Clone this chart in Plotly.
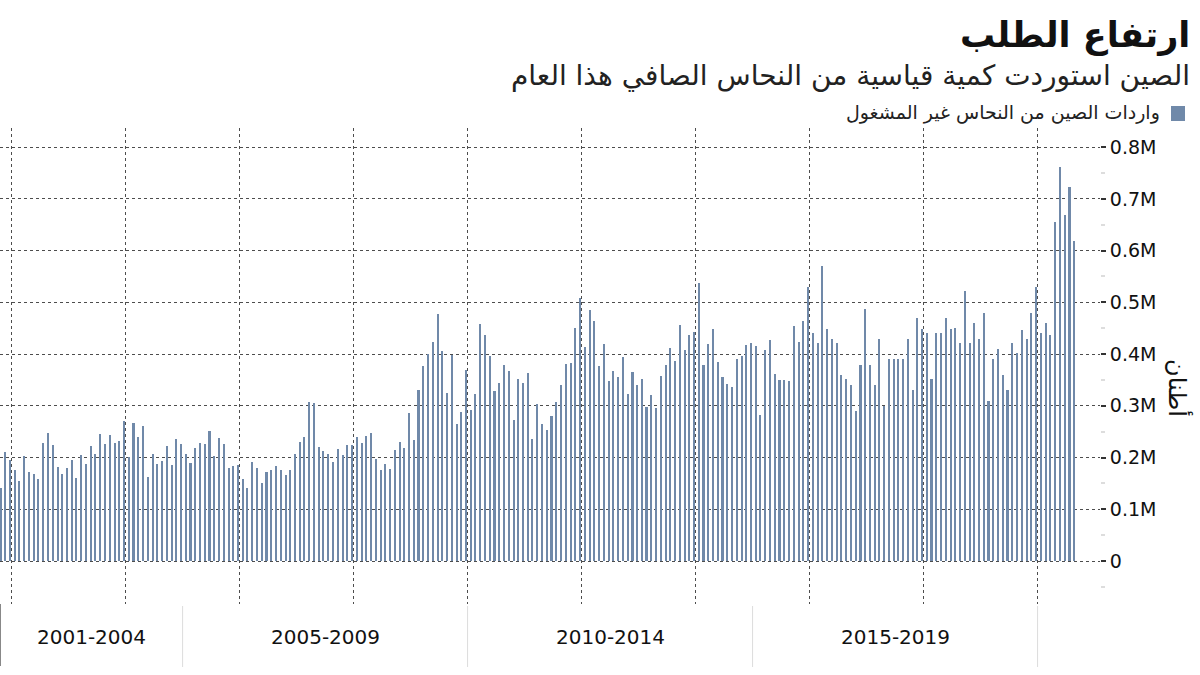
import pandas as pd
import plotly.graph_objects as go

# ---------------- data ----------------
start_month = "2001-10"
# China unwrought copper imports, thousand tonnes (monthly)
imports_kt = [
    141, 211, 196, 175, 154, 203, 172, 168, 158, 228, 247, 225, 181, 168, 180, 196,
    160, 205, 187, 222, 207, 245, 227, 243, 228, 232, 271, 202, 266, 240, 261, 163,
    207, 187, 194, 222, 185, 236, 227, 207, 189, 219, 228, 227, 251, 203, 238,
    226, 180, 183, 186, 159, 141, 191, 180, 150, 173, 175, 184, 175, 166, 175, 207,
    230, 240, 307, 305, 220, 213, 207, 192, 217, 205, 224, 224, 240, 228, 241, 247,
    198, 175, 187, 178, 215, 231, 218, 286, 233, 331, 376, 400, 423,
    478, 405, 324, 399, 264, 289, 370, 292, 322, 458, 436, 396, 329, 344, 378, 368,
    273, 351, 345, 364, 236, 303, 264, 254, 280, 307, 341, 381, 382, 450, 509, 413,
    485, 463, 376, 420, 348, 367, 356, 394, 322, 366, 341, 351, 298,
    320, 296, 358, 379, 411, 387, 457, 408, 436, 442, 537, 379, 419, 449, 385, 355,
    343, 336, 391, 396, 417, 421, 415, 283, 408, 428, 362, 349, 349, 347, 455, 423,
    463, 530, 440, 421, 570, 449, 430, 421, 360, 352, 340, 290, 379,
    488, 379, 340, 430, 300, 391, 391, 391, 391, 430, 331, 470, 449, 440, 351, 440,
    440, 470, 449, 450, 421, 521, 421, 461, 430, 479, 309, 391, 409, 360, 331, 421,
    403, 446, 430, 479, 530, 441, 461, 436, 656, 762, 669, 722, 619,
]
period_labels = ["2001-2004", "2005-2009", "2010-2014", "2015-2019"]
period_start_years = [2001, 2005, 2010, 2015]
period_end_years = [2005, 2010, 2015, 2020]
y_tick_vals = [0, 100000, 200000, 300000, 400000, 500000, 600000, 700000, 800000]
y_tick_text = ["0", "0.1M", "0.2M", "0.3M", "0.4M", "0.5M", "0.6M", "0.7M", "0.8M"]

title_text = "ارتفاع الطلب"
subtitle_text = "الصين استوردت كمية قياسية من النحاس الصافي هذا العام"
series_name = "واردات الصين من النحاس غير المشغول"
y_title = "أطنان"

# ---------------- derived ----------------
dates = pd.date_range(start=start_month, periods=len(imports_kt), freq="ME")
values = [v * 1000 for v in imports_kt]

DAY = 86400000
x_range = [pd.Timestamp("2001-10-19"), pd.Timestamp("2021-02-04")]
y_range = [-83100, 837000]

BAR_COLOR = "#7089a9"
GRID_COLOR = "#4d4d4d"
AR_FONT = "DejaVu Sans"
NUM_FONT = "DejaVu Sans"

W, H = 1200, 675
ML, MR, MT, MB = 0, 100, 128, 71
PW, PH = W - ML - MR, H - MT - MB


def px_x(px):
    return (px - ML) / PW


def px_y(py):
    return (H - MB - py) / PH


fig = go.Figure()
fig.add_trace(go.Bar(
    x=dates, y=values, name=series_name,
    marker=dict(color=BAR_COLOR, line=dict(width=0)),
    width=10 * DAY, offset=-11 * DAY,
    showlegend=False,
    hovertemplate="%{x|%Y-%m}: %{y:,}<extra></extra>",
))

annotations = []
shapes = []

# title, subtitle, legend
annotations.append(dict(text="<b>" + title_text + "</b>", xref="paper", yref="paper",
                        x=px_x(1192), y=px_y(35), xanchor="right", yanchor="middle",
                        showarrow=False, font=dict(family=AR_FONT, size=35, color="#111")))
annotations.append(dict(text=subtitle_text, xref="paper", yref="paper",
                        x=px_x(1192), y=px_y(76), xanchor="right", yanchor="middle",
                        showarrow=False, font=dict(family=AR_FONT, size=28, color="#222")))
annotations.append(dict(text=series_name, xref="paper", yref="paper",
                        x=px_x(1162), y=px_y(113), xanchor="right", yanchor="middle",
                        showarrow=False, font=dict(family=AR_FONT, size=19, color="#222")))
shapes.append(dict(type="rect", xref="paper", yref="paper",
                   x0=px_x(1171), x1=px_x(1185), y0=px_y(121), y1=px_y(106),
                   fillcolor=BAR_COLOR, line=dict(width=0)))

# y axis title
annotations.append(dict(text=y_title, xref="paper", yref="paper",
                        x=px_x(1178), y=px_y(388), xanchor="center", yanchor="middle",
                        textangle=90, showarrow=False,
                        font=dict(family=AR_FONT, size=24, color="#111")))

# period band below the chart
shapes.append(dict(type="line", xref="paper", yref="paper", x0=0, x1=0,
                   y0=px_y(604), y1=px_y(666), line=dict(color="#888", width=2)))
for s_year, e_year, label in zip(period_start_years, period_end_years, period_labels):
    s = max(pd.Timestamp(f"{s_year}-01-01"), x_range[0])
    e = min(pd.Timestamp(f"{e_year}-01-01"), x_range[1])
    mid = s + (e - s) / 2
    annotations.append(dict(text=label, xref="x", yref="paper", x=mid, y=px_y(637),
                            xanchor="center", yanchor="middle", showarrow=False,
                            font=dict(family=NUM_FONT, size=20, color="#111")))
    shapes.append(dict(type="line", xref="x", yref="paper",
                       x0=pd.Timestamp(f"{e_year}-01-01"), x1=pd.Timestamp(f"{e_year}-01-01"),
                       y0=px_y(606), y1=px_y(667), line=dict(color="#dcdcdc", width=1)))

fig.update_layout(
    width=W, height=H,
    margin=dict(l=ML, r=MR, t=MT, b=MB),
    paper_bgcolor="white", plot_bgcolor="white",
    annotations=annotations, shapes=shapes,
    bargap=0,
    xaxis=dict(type="date", range=x_range, tick0="2002-01-01", dtick="M24",
               showgrid=True, gridcolor=GRID_COLOR, griddash="dot", gridwidth=1,
               showticklabels=False, ticks="", showline=False, zeroline=False,
               fixedrange=True),
    yaxis=dict(side="right", range=y_range, tickmode="array",
               tickvals=y_tick_vals, ticktext=y_tick_text,
               showgrid=True, gridcolor=GRID_COLOR, griddash="dot", gridwidth=1,
               zeroline=False, showline=False,
               ticks="outside", ticklen=5, tickwidth=2, tickcolor="#333",
               tickfont=dict(family=NUM_FONT, size=19, color="#111"),
               minor=dict(tick0=0, dtick=50000, ticks="outside", ticklen=4,
                          tickwidth=2, tickcolor="#dddddd", showgrid=False),
               fixedrange=True),
)

fig.write_html("out.html")
